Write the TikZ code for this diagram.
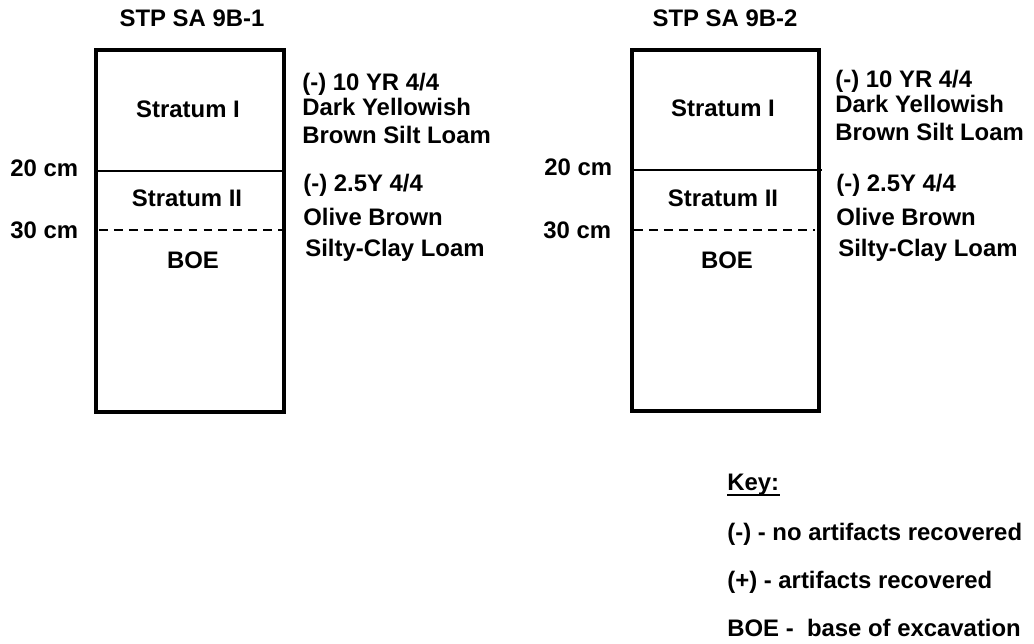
\documentclass[tikz,border=0pt]{standalone}
\usepackage{fontspec}
\setmainfont{Liberation Sans}
\usetikzlibrary{positioning}
\tikzset{
  mybox/.style={
    draw=black,
    line width=2.3pt,
  },
  mysplit/.style={
    draw=black,
    line width=0.8pt,
  },
  mydashed/.style={
    draw=black,
    line width=0.8pt,
    dash pattern=on 5pt off 3.5pt,
  },
  mytext/.style={
    font=\bfseries\fontsize{13.6}{16}\selectfont,
    inner sep=0pt,
    text height=9.8pt,
    text depth=0pt,
  },
  mynote/.style={
    mytext,
    anchor=west,
  },
}

\begin{document}
\begin{tikzpicture}[x=0.02cm, y=-0.02cm]
    \useasboundingbox (0,0) rectangle (1034,643);

    % first test pit
    \node[mytext] (T1) at (192, 18) {STP SA 9B-1};
    \draw[mybox] (96, 50) rectangle (284, 412);
    \draw[mysplit] (96, 171) -- (284, 171);
    \draw[mydashed] (99, 230) -- (282, 230);
    \node[mytext] (S1a) at (188, 109) {Stratum I};
    \node[mytext] (S1b) at (187, 198) {Stratum II};
    \node[mytext] (B1)  at (193, 260) {BOE};
    \node[mynote] (D1a) at (10, 168) {20 cm};
    \node[mynote] (D1b) at (10, 230) {30 cm};
    \node[mynote] (N1a) at (302, 82)  {(-) 10 YR 4/4};
    \node[mynote] (N1b) at (302, 107) {Dark Yellowish};
    \node[mynote] (N1c) at (302, 135) {Brown Silt Loam};
    \node[mynote] (N1d) at (303, 183) {(-) 2.5Y 4/4};
    \node[mynote] (N1e) at (303, 217) {Olive Brown};
    \node[mynote] (N1f) at (305, 248) {Silty-Clay Loam};

    % second test pit
    \node[mytext] (T2) at (725, 18) {STP SA 9B-2};
    \draw[mybox] (632, 50) rectangle (819, 411);
    \draw[mysplit] (632, 170) -- (822, 170);
    \draw[mydashed] (634, 230) -- (815, 230);
    \node[mytext] (S2a) at (723, 108) {Stratum I};
    \node[mytext] (S2b) at (723, 198) {Stratum II};
    \node[mytext] (B2)  at (727, 260) {BOE};
    \node[mynote] (D2a) at (544, 167) {20 cm};
    \node[mynote] (D2b) at (543, 230) {30 cm};
    \node[mynote] (N2a) at (835, 79)  {(-) 10 YR 4/4};
    \node[mynote] (N2b) at (835, 104) {Dark Yellowish};
    \node[mynote] (N2c) at (835, 132) {Brown Silt Loam};
    \node[mynote] (N2d) at (836, 183) {(-) 2.5Y 4/4};
    \node[mynote] (N2e) at (836, 217) {Olive Brown};
    \node[mynote] (N2f) at (838, 248) {Silty-Clay Loam};

    % key
    \node[mynote] (K)  at (727, 482) {Key:};
    \draw[line width=1.1pt] ([yshift=-2.2pt]K.south west) -- ([yshift=-2.2pt]K.south east);
    \node[mynote] (K1) at (727, 532) {(-) - no artifacts recovered};
    \node[mynote] (K2) at (727, 580) {(+) - artifacts recovered};
    \node[mynote] (K3) at (727, 628) {BOE -\ \ base of excavation};
\end{tikzpicture}
\end{document}
